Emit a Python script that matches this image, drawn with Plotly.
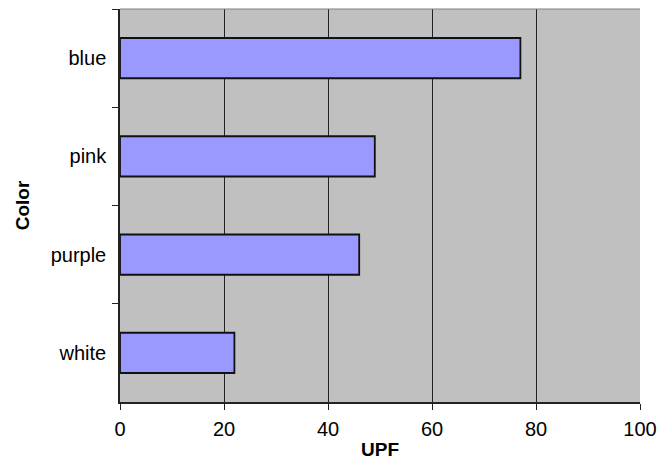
import plotly.graph_objects as go

categories = ["blue", "pink", "purple", "white"]
upf_values = [77, 49, 46, 22]
x_ticks = [0, 20, 40, 60, 80, 100]

fig = go.Figure()
fig.add_trace(go.Bar(
    x=upf_values,
    y=categories,
    orientation="h",
    width=0.41,
    marker=dict(color="#9999ff", line=dict(color="#111111", width=1.8)),
))

font_family = "Liberation Sans, Arial, sans-serif"

# page body has an 8px default margin; margins compensate so plot area lands
# at x 120-640, y 9-402 in the window
fig.update_layout(
    width=669, height=461,
    margin=dict(l=112, r=37, t=1, b=67),
    paper_bgcolor="white",
    plot_bgcolor="#c0c0c0",
    showlegend=False,
    font=dict(family=font_family, color="black", size=19),
    xaxis=dict(
        range=[0, 100],
        tickvals=x_ticks,
        ticktext=[str(v) for v in x_ticks],
        showgrid=True, gridcolor="#222222", gridwidth=1,
        zeroline=False,
        showline=True, linecolor="#222222", linewidth=1.5,
        ticks="outside", ticklen=6, tickcolor="#222222", tickwidth=1,
        ticklabelstandoff=2,
        tickfont=dict(size=20, family=font_family),
        title=dict(text="<b>UPF</b>", font=dict(size=19, family=font_family), standoff=4),
        fixedrange=True,
    ),
    yaxis=dict(
        categoryorder="array",
        categoryarray=categories,
        autorange="reversed",
        tickson="boundaries",
        showgrid=False,
        showline=True, linecolor="#222222", linewidth=1.5,
        ticks="outside", ticklen=6, tickcolor="#222222", tickwidth=1,
        ticklabelstandoff=8,
        tickfont=dict(size=20, family=font_family),
        title=dict(text="<b>Color</b>", font=dict(size=19, family=font_family), standoff=16),
        fixedrange=True,
    ),
    shapes=[dict(type="line", xref="paper", yref="paper", x0=0, x1=1, y0=1, y1=1,
                 line=dict(color="#808080", width=1))],
)

fig.write_html("out.html")
